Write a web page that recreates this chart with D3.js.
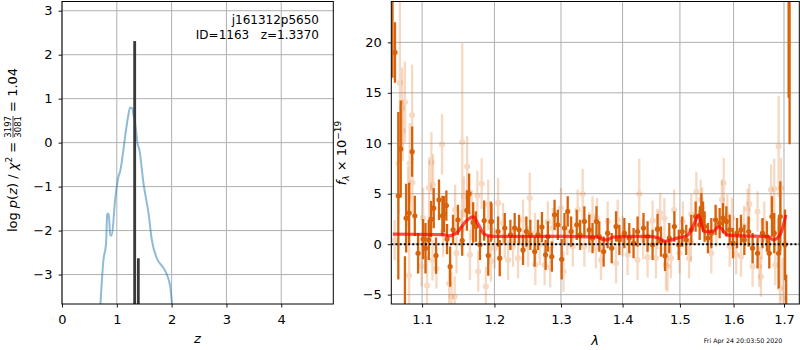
<!DOCTYPE html>
<html>
<head>
<meta charset="utf-8">
<script src="https://cdn.jsdelivr.net/npm/d3@7"></script>
<style>
  body { margin: 0; background: #fff; }
  text { font-family: "DejaVu Sans", sans-serif; fill: #000; }
</style>
</head>
<body>
<svg id="chart" width="800" height="350"></svg>
<script>
// ---- left panel: log p(z)
const pzCurve = [
  [0.700, -3.70], [0.756, -2.67], [0.804, -2.29], [0.818, -1.80], [0.825, -1.61],
  [0.845, -1.62], [0.862, -1.75], [0.878, -2.11], [0.908, -2.11], [0.969, -1.30],
  [1.030, -0.77], [1.060, -0.66], [1.120, -0.17], [1.152, 0.14], [1.200, 0.55],
  [1.243, 0.80], [1.280, 0.78], [1.310, 0.60], [1.335, 0.44], [1.377, -0.01],
  [1.413, -0.17], [1.486, -0.92], [1.578, -1.60], [1.640, -2.22], [1.730, -2.63],
  [1.852, -2.85], [1.925, -3.04], [1.974, -3.27], [2.010, -3.70]
];
// fine-grid spikes: [z start, z end, log p]
const pzSpikes = [[1.300, 1.352, 2.31], [1.368, 1.418, -2.63]];
const zTicks = [0, 1, 2, 3, 4];
const logpTicks = [-3, -2, -1, 0, 1, 2, 3];

// ---- right panel: spectrum, [lambda, flux, err]
const specDark = [
  [1.0615, 28, 11.5], [1.0647, 19.0, 3], [1.0690, 4.8, 8.3], [1.0721, 9.43, 4.8],
  [1.0775, -9, 7.8], [1.0791, 2.58, 3.4], [1.0830, 3.08, 3], [1.0869, 9.17, 2.5],
  [1.0904, 2.81, 2], [1.0947, -0.9, 2], [1.1013, 0.5, 2], [1.1045, -0.4, 2.5],
  [1.1089, 0.43, 2], [1.1119, 2.48, 1.8], [1.1155, 3.57, 2], [1.1186, -1.13, 1.8],
  [1.1226, 4.4, 2], [1.1272, 2.81, 2], [1.1294, 2.98, 1.8], [1.1326, 3.83, 1.5],
  [1.1335, 0.5, 1.5], [1.1377, -2.22, 2], [1.1417, 1.42, 1.5], [1.1485, 2.41, 1.5],
  [1.1544, 0.36, 1.5], [1.1609, 3.34, 2], [1.1640, 5.0, 2], [1.1697, 2.15, 2],
  [1.1735, 1.75, 1.5], [1.1793, -0.07, 1.5], [1.1853, 2.34, 2], [1.1911, -1.13, 2],
  [1.1949, 2.24, 2], [1.1958, 2.25, 1.8], [1.2053, 1.25, 1.5], [1.2077, -1.39, 1.8],
  [1.2150, 1.59, 1.5], [1.2233, 0.92, 1.5], [1.2296, 1.59, 1.5], [1.2361, 1.42, 1.5],
  [1.2420, -0.57, 1.5], [1.2470, 1.25, 1.5], [1.2530, 0.92, 1.5], [1.2595, -0.73, 1.5],
  [1.2645, 0.92, 1.5], [1.2706, 1.69, 1.5], [1.2762, -1.06, 1.5], [1.2797, 0.76, 1.5],
  [1.2858, -1.23, 1.5], [1.2900, 2.91, 1.5], [1.2951, 1.92, 1.5], [1.3011, -1.5, 2],
  [1.3055, 1.59, 1.5], [1.3106, 3.24, 1.5], [1.3160, 1.25, 1.5], [1.3249, 1.92, 1.5],
  [1.3303, 0.92, 1.5], [1.3371, 2.25, 1.5], [1.3450, 1.42, 1.5], [1.3503, 0.6, 1.5],
  [1.3567, 2.25, 1.5], [1.3613, 0.76, 1.5], [1.3685, -0.73, 1.5], [1.3751, 1.09, 1.5],
  [1.3818, -0.4, 1.5], [1.3891, 1.75, 1.5], [1.3946, 0.43, 1.5], [1.4030, 1.09, 1.5],
  [1.4113, 0.6, 1.5], [1.4186, 0.1, 1.5], [1.4255, 1.25, 1.5], [1.4357, 1.59, 1.5],
  [1.4427, 0.76, 1.5], [1.4514, -0.07, 1.5], [1.4602, 1.49, 1.5], [1.4662, 0.26, 1.5],
  [1.4733, -1.16, 1.5], [1.4809, 0.6, 1.5], [1.4900, 1.75, 1.5], [1.4979, -0.07, 1.5],
  [1.5041, 1.25, 1.5], [1.5114, 0.43, 1.5], [1.5206, 1.42, 1.5], [1.5286, 2.74, 1.5],
  [1.5360, 1.92, 1.5], [1.5391, 3.57, 1.5], [1.5422, 2.74, 1.5], [1.5452, 1.75, 1.5],
  [1.5514, 0.6, 1.5], [1.5577, 1.09, 1.5], [1.5657, 2.41, 1.5], [1.5734, 2.08, 1.5],
  [1.5797, 2.58, 1.5], [1.5861, 2.25, 1.5], [1.5925, 1.42, 1.5], [1.5989, 0.1, 1.5],
  [1.6066, 1.09, 1.5], [1.6143, 1.42, 1.5], [1.6208, 0.43, 1.5], [1.6292, 1.25, 1.5],
  [1.6370, -0.4, 1.5], [1.6468, -0.9, 1.5], [1.6567, 1.09, 1.5], [1.6654, 0.76, 1.5],
  [1.6702, -0.9, 1.5], [1.6756, 2.74, 2], [1.6802, 1.09, 2], [1.6891, -0.9, 3.5],
  [1.6925, 2.74, 3.5], [1.7020, -0.07, 3.5], [1.7045, -12, 9], [1.7095, 30, 15.5],
  [1.7115, 28, 18.1]
];
const specLight = [
  [1.0643, 0.4, 2], [1.0694, 8.0, 5], [1.0710, 16, 8], [1.0739, 13.5, 4],
  [1.0745, 11.25, 3], [1.0775, 14.1, 4], [1.0816, 4.7, 3], [1.0830, -3.1, 3],
  [1.0838, 8.0, 4], [1.0869, 12.8, 5], [1.0873, 6.1, 3], [1.0992, -2.2, 2],
  [1.1013, 2.6, 3], [1.1066, -4.1, 3], [1.1093, 5.6, 3], [1.1124, 8.1, 3],
  [1.1138, -1.6, 2], [1.1146, 5.9, 3], [1.1191, -2.4, 2], [1.1267, 9.9, 3],
  [1.1282, 1.25, 2.5], [1.1364, -3.9, 2], [1.1396, -5.2, 2.5], [1.1440, -5.2, 2],
  [1.1445, 3.4, 2.5], [1.1465, -0.9, 2], [1.1535, 1.4, 2], [1.1544, 10.1, 9.8],
  [1.1567, 4.7, 2], [1.1613, 7.7, 3], [1.1652, -1.06, 2.5], [1.1675, 2.9, 2.5],
  [1.1756, 4.8, 2.5], [1.1769, -2.7, 2], [1.1817, 6.0, 2.5], [1.1877, -4.2, 2],
  [1.1911, 3.9, 2.5], [1.1949, -1.7, 2], [1.2005, -0.4, 2], [1.2053, 4.07, 2.5],
  [1.2126, 2.08, 2], [1.2150, 0.6, 2], [1.2199, -1.56, 2], [1.2271, -0.24, 2],
  [1.2346, -1.39, 2], [1.2420, 2.41, 2], [1.2496, -0.24, 2], [1.2521, 4.57, 2.5],
  [1.2600, 1.1, 2], [1.2605, -2.06, 2], [1.2672, -0.07, 2], [1.2747, -2.06, 2],
  [1.2797, 2.25, 2], [1.2833, -2.28, 2], [1.2873, 1.59, 2], [1.3000, 3.57, 2],
  [1.3039, -2.72, 2], [1.3100, 0.9, 2], [1.3186, -0.24, 2], [1.3264, 3.41, 2],
  [1.3344, 4.97, 2.5], [1.3371, -0.24, 2], [1.3450, 1.2, 2], [1.3503, 2.74, 2],
  [1.3558, -0.4, 2], [1.3575, 2.58, 2], [1.3641, -1.56, 2], [1.3751, 2.25, 2],
  [1.3891, -1.89, 2], [1.3918, 2.41, 2], [1.4000, 0.8, 2], [1.4085, -1.06, 2],
  [1.4255, -1.56, 2], [1.4284, 4.97, 3.5], [1.4350, 0.5, 2], [1.4427, -1.29, 2],
  [1.4514, 2.31, 2], [1.4573, -1.39, 2], [1.4600, 1.5, 2], [1.4648, 3.08, 2],
  [1.4722, 2.58, 2], [1.4750, -2.06, 2.5], [1.4778, -2.22, 2.5], [1.4839, -1.39, 2],
  [1.4896, 3.41, 2], [1.4994, -0.9, 2], [1.5053, 2.25, 2], [1.5165, -1.39, 2],
  [1.5200, 0.2, 2], [1.5206, 3.0, 2], [1.5299, 5.16, 2], [1.5380, 4.4, 2],
  [1.5405, 3.6, 2], [1.5577, -0.9, 2], [1.5671, 1.75, 2], [1.5777, 4.4, 2],
  [1.5811, 6.06, 2.5], [1.5880, 2.9, 2], [1.5925, -0.24, 2], [1.5970, 2.6, 2],
  [1.6050, -1.0, 2], [1.6143, -1.23, 2], [1.6200, 1.8, 2], [1.6271, 3.48, 2],
  [1.6305, 4.0, 2], [1.6370, -2.22, 2], [1.6468, 3.24, 2], [1.6502, -2.22, 2],
  [1.6535, -3.22, 2], [1.6550, 0.5, 2], [1.6602, 2.25, 2], [1.6737, 5.4, 2.5],
  [1.6802, 5.46, 3], [1.6822, -2.06, 2], [1.6891, 9.69, 5], [1.6918, -4.37, 4],
  [1.6939, 5.56, 3], [1.6973, -5.36, 4], [1.7027, 0.1, 3]
];
const modelLam = [1.062, 1.128, 1.137, 1.147, 1.160, 1.170, 1.177, 1.186, 1.198, 1.250,
  1.300, 1.357, 1.366, 1.374, 1.384, 1.413, 1.447, 1.462, 1.474, 1.495, 1.513,
  1.525, 1.534, 1.544, 1.562, 1.571, 1.588, 1.600, 1.668, 1.678, 1.692, 1.704];
const modelFlux = [0.99, 0.95, 0.82, 1.15, 2.3, 2.7, 1.95, 0.95, 0.78, 0.76,
  0.78, 0.72, 0.5, 0.42, 0.7, 0.78, 0.78, 0.6, 0.28, 0.6, 0.85,
  1.9, 2.9, 1.25, 1.3, 1.75, 0.92, 0.85, 0.76, 0.43, 0.92, 2.9];
const lamTicks = [1.1, 1.2, 1.3, 1.4, 1.5, 1.6, 1.7];
const fluxTicks = [-5, 0, 5, 10, 15, 20];

const svg = d3.select("#chart");
const darkOrange = "#d8620a";
const tickFont = 13;

// scales
const xz = d3.scaleLinear().domain([0, 4.95]).range([62, 333.3]);
const yz = d3.scaleLinear().domain([-3.67, 3.21]).range([304, 1.5]);
const xl = d3.scaleLog().domain([1.06, 1.7316]).range([391.3, 799.3]);
const yl = d3.scaleLinear().domain([-5.93, 24.05]).range([304, 1.5]);

// grid + ticks + clip for one panel
function drawFrame(xs, ys, xticks, yticks, id) {
  const [x0, x1] = xs.range(), [y0, y1] = ys.range();
  const g = svg.append("g");
  g.selectAll(".gx").data(xticks).join("line")
    .attr("x1", d => xs(d)).attr("x2", d => xs(d)).attr("y1", y0).attr("y2", y1)
    .attr("stroke", "#b0b0b0").attr("stroke-width", 1);
  g.selectAll(".gy").data(yticks).join("line")
    .attr("x1", x0).attr("x2", x1).attr("y1", d => ys(d)).attr("y2", d => ys(d))
    .attr("stroke", "#b0b0b0").attr("stroke-width", 1);

  const ax = g.append("g").attr("transform", "translate(0," + y0 + ")")
    .call(d3.axisBottom(xs).tickValues(xticks).tickFormat(d3.format("")).tickSize(3.5).tickPadding(7.5).tickSizeOuter(0));
  const ay = g.append("g").attr("transform", "translate(" + x0 + ",0)")
    .call(d3.axisLeft(ys).tickValues(yticks).tickFormat(d3.format("")).tickSize(3.5).tickPadding(6).tickSizeOuter(0));
  [ax, ay].forEach(a => {
    a.attr("font-size", null).attr("font-family", null);
    a.select(".domain").remove();
    a.selectAll("text").style("font-size", tickFont + "px").style("font-family", "DejaVu Sans").attr("fill", "#000");
    a.selectAll("line").attr("stroke", "#000").attr("stroke-width", 0.9);
  });

  svg.append("clipPath").attr("id", id)
    .append("rect").attr("x", x0).attr("y", y1).attr("width", x1 - x0).attr("height", y0 - y1);
  return g;
}
function drawBorder(xs, ys) {
  const [x0, x1] = xs.range(), [y0, y1] = ys.range();
  svg.append("rect").attr("x", x0).attr("y", y1).attr("width", x1 - x0).attr("height", y0 - y1)
    .attr("fill", "none").attr("stroke", "#000").attr("stroke-width", 1);
}

// ---------- left panel
drawFrame(xz, yz, zTicks, logpTicks, "clipL");
const gl = svg.append("g").attr("clip-path", "url(#clipL)");
gl.append("path").datum(pzCurve)
  .attr("d", d3.line().x(d => xz(d[0])).y(d => yz(d[1])).curve(d3.curveMonotoneX))
  .attr("fill", "none").attr("stroke", "#1f77b4").attr("stroke-opacity", 0.5).attr("stroke-width", 2);
gl.selectAll(".spike").data(pzSpikes).join("rect")
  .attr("x", d => xz(d[0])).attr("width", d => xz(d[1]) - xz(d[0]))
  .attr("y", d => yz(d[2])).attr("height", d => yz.range()[0] - yz(d[2]))
  .attr("fill", "#3a3a3a");
drawBorder(xz, yz);

svg.append("text").attr("x", 319).attr("y", 24).attr("text-anchor", "end")
  .style("font-size", "12px").text("j161312p5650");
svg.append("text").attr("x", 319).attr("y", 38.5).attr("text-anchor", "end")
  .style("font-size", "12px").text("ID=1163\u00a0\u00a0\u00a0z=1.3370");

svg.append("text").attr("x", 197.5).attr("y", 343).attr("text-anchor", "middle")
  .style("font-size", "13px").attr("font-style", "italic").text("z");

// y label with stacked fraction
(function () {
  const g = svg.append("g");
  const t = g.append("text").style("font-size", "13px");
  t.append("tspan").text("log\u00a0");
  t.append("tspan").attr("font-style", "italic").text("p");
  t.append("tspan").text("(");
  t.append("tspan").attr("font-style", "italic").text("z");
  t.append("tspan").text(")\u00a0/\u00a0");
  t.append("tspan").attr("font-style", "italic").text("χ");
  t.append("tspan").style("font-size", "9px").attr("dy", -5.5).text("2");
  t.append("tspan").attr("dy", 5.5).text("\u00a0=\u00a0");
  const w1 = t.node().getComputedTextLength();
  const num = g.append("text").style("font-size", "8.5px").attr("x", w1).attr("y", -6).text("3197");
  const den = g.append("text").style("font-size", "8.5px").attr("x", w1).attr("y", 3.8).text("3081");
  const wf = Math.max(num.node().getComputedTextLength(), den.node().getComputedTextLength());
  g.append("line").attr("x1", w1).attr("x2", w1 + wf).attr("y1", -4).attr("y2", -4)
    .attr("stroke", "#000").attr("stroke-width", 0.7);
  const t2 = g.append("text").style("font-size", "13px")
    .attr("x", w1 + wf).text("\u00a0=\u00a01.04");
  const total = w1 + wf + t2.node().getComputedTextLength();
  g.attr("transform", "translate(17,150) rotate(-90) translate(" + (-total / 2) + ",0)");
})();

// ---------- right panel
drawFrame(xl, yl, lamTicks, fluxTicks, "clipR");
const gr = svg.append("g").attr("clip-path", "url(#clipR)");

function drawPoints(data, color, opacity, r) {
  const g = gr.append("g").attr("opacity", opacity);
  g.selectAll("line").data(data).join("line")
    .attr("x1", d => xl(d[0])).attr("x2", d => xl(d[0]))
    .attr("y1", d => yl(d[1] - d[2])).attr("y2", d => yl(d[1] + d[2]))
    .attr("stroke", color).attr("stroke-width", 2.3);
  g.selectAll("circle").data(data).join("circle")
    .attr("cx", d => xl(d[0])).attr("cy", d => yl(d[1])).attr("r", r)
    .attr("fill", color);
}
specLight.forEach(p => drawPoints([p], "#e2782a", 0.28, 3));
drawPoints(specDark, darkOrange, 1, 2.6);

gr.append("line").attr("x1", xl.range()[0]).attr("x2", xl.range()[1])
  .attr("y1", yl(0)).attr("y2", yl(0))
  .attr("stroke", "#000").attr("stroke-width", 2).attr("stroke-dasharray", "2,2.2");

gr.append("path").datum(d3.zip(modelLam, modelFlux))
  .attr("d", d3.line().x(d => xl(d[0])).y(d => yl(d[1])).curve(d3.curveMonotoneX))
  .attr("fill", "none").attr("stroke", "#ff0000").attr("stroke-opacity", 0.7).attr("stroke-width", 3.2);
drawBorder(xl, yl);

svg.append("text").attr("x", 595).attr("y", 345).attr("text-anchor", "middle")
  .style("font-size", "13px").attr("font-style", "italic").text("λ");

(function () {
  const t = svg.append("text").style("font-size", "13px").attr("text-anchor", "middle")
    .attr("transform", "translate(346,153) rotate(-90)");
  t.append("tspan").attr("font-style", "italic").text("f");
  t.append("tspan").attr("font-style", "italic").style("font-size", "9px").attr("dy", 2.5).text("λ");
  t.append("tspan").attr("dy", -2.5).text("\u00a0×\u00a010");
  t.append("tspan").style("font-size", "9px").attr("dy", -5.5).text("−19");
})();

svg.append("text").attr("x", 743).attr("y", 343).attr("text-anchor", "middle")
  .style("font-size", "6.3px").text("Fri Apr 24 20:03:50 2020");
</script>
</body>
</html>
